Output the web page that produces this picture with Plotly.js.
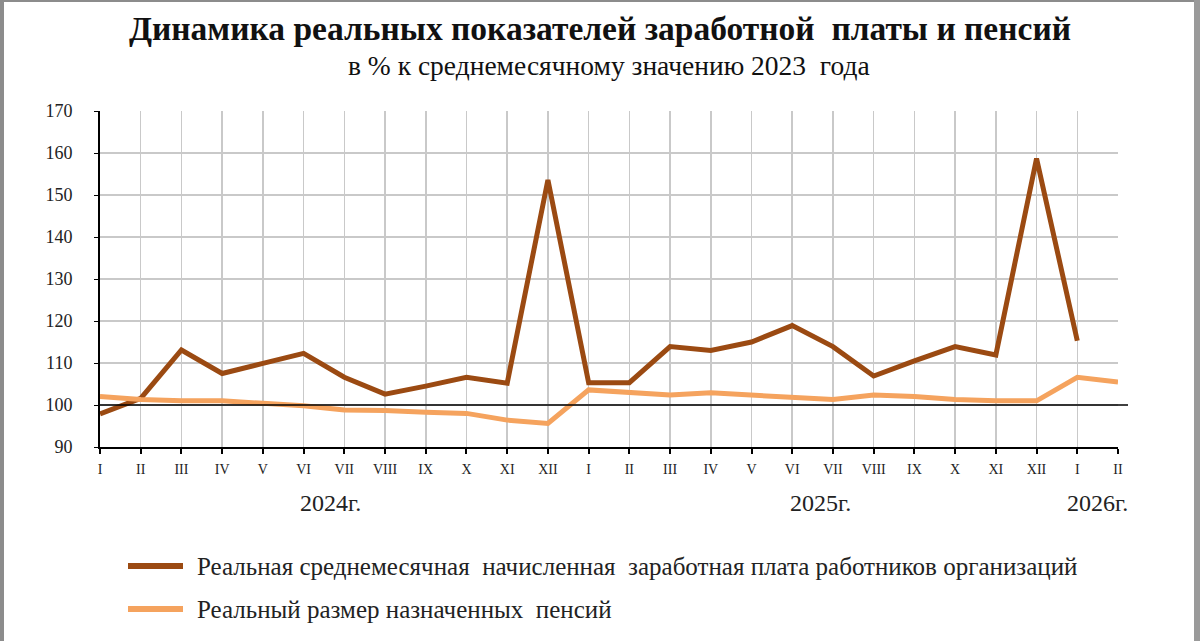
<!DOCTYPE html>
<html>
<head>
<meta charset="utf-8">
<script src="https://cdn.plot.ly/plotly-3.0.1.min.js"></script>
<style>
  body { margin: 0; background: #fff; }
  #wrap { position: relative; width: 1200px; height: 641px; overflow: hidden; }
  #chart { width: 1200px; height: 641px; }
  .edge { position: absolute; background: #8c8c8c; }
</style>
</head>
<body>
<div id="wrap">
  <div id="chart"></div>
  <div class="edge" style="left:0;top:0;width:4px;height:641px;"></div>
  <div class="edge" style="left:0;top:0;width:1200px;height:2px;"></div>
  <div class="edge" style="left:1194px;top:0;width:6px;height:641px;background:#9a9a9a;"></div>
</div>
<script>
  // months Jan 2024 .. Feb 2026
  var monthLabels = ["I", "II", "III", "IV", "V", "VI", "VII", "VIII", "IX", "X", "XI", "XII",
    "I", "II", "III", "IV", "V", "VI", "VII", "VIII", "IX", "X", "XI", "XII",
    "I", "II"];
  var wages = [97.9, 101.6, 113.1, 107.5, 109.9, 112.3, 106.6, 102.6, 104.5, 106.6, 105.2, 153.6,
    105.3, 105.3, 113.9, 113.0, 115.0, 118.9, 113.9, 106.9, 110.5, 113.9, 111.9, 158.7,
    115.3, null];
  var pensions = [102.0, 101.3, 101.0, 101.0, 100.4, 99.8, 98.8, 98.7, 98.3, 98.0, 96.4, 95.6,
    103.6, 102.9, 102.4, 102.9, 102.4, 102.0, 101.3, 102.4, 102.0, 101.3, 101.0, 101.0,
    106.6, 105.5];
  var seriesNames = [
    "Реальная среднемесячная  начисленная  заработная плата работников организаций",
    "Реальный размер назначенных  пенсий",
  ];
  var seriesColors = ["#9b4a12", "#f5a35e"];
  var yearLabels = ["2024г.", "2025г.", "2026г."];
  var yearPos = [5.65, 17.7, 24.5];

  var serif = "Liberation Serif";
  var idx = monthLabels.map(function (_, i) { return i; });

  // plot area in pixels: x 100..1118, y 111..447
  var plotH = 336, plotW = 1018, plotTop = 111, plotLeft = 100;
  function py(pix) { return 1 - (pix - plotTop) / plotH; }
  function px(pix) { return (pix - plotLeft) / plotW; }

  var traces = [wages, pensions].map(function (vals, i) {
    return {
      x: idx,
      y: vals,
      type: "scatter",
      mode: "lines",
      name: seriesNames[i],
      line: { color: seriesColors[i], width: 5 },
      hoverinfo: "y",
    };
  });

  var annotations = yearLabels.map(function (t, i) {
    return {
      x: yearPos[i],
      xref: "x",
      y: py(503),
      yref: "paper",
      yanchor: "middle",
      text: t,
      showarrow: false,
      font: { family: serif, size: 24, color: "#222" },
    };
  });
  annotations.push({
    x: 0.5, xref: "paper", xanchor: "center",
    y: py(65), yref: "paper", yanchor: "middle",
    text: "в % к среднемесячному значению 2023  года",
    showarrow: false,
    font: { family: serif, size: 27.5, color: "#111" },
  });

  // hand-built legend: sample lines + labels
  var legendY = [566, 609];
  var shapes = [
    {
      type: "line",
      xref: "paper",
      yref: "y",
      x0: 0,
      x1: px(1128),
      y0: 100,
      y1: 100,
      line: { color: "#000", width: 1.5 },
    },
  ];
  seriesNames.forEach(function (name, i) {
    shapes.push({
      type: "line",
      xref: "paper",
      yref: "paper",
      x0: px(128),
      x1: px(183),
      y0: py(legendY[i]),
      y1: py(legendY[i]),
      line: { color: seriesColors[i], width: 6 },
    });
    annotations.push({
      x: px(195), xref: "paper", xanchor: "left",
      y: py(legendY[i]), yref: "paper", yanchor: "middle",
      text: name,
      showarrow: false,
      font: { family: serif, size: 25, color: "#222" },
    });
  });

  var layout = {
    width: 1200,
    height: 641,
    margin: { l: 100, r: 82, t: 111, b: 194 },
    paper_bgcolor: "#ffffff",
    plot_bgcolor: "#ffffff",
    font: { family: serif, color: "#222" },
    title: {
      text: "<b>Динамика реальных показателей заработной  платы и пенсий</b>",
      x: 0.5,
      xref: "container",
      xanchor: "center",
      y: 1 - 28 / 641,
      yanchor: "middle",
      font: { family: serif, size: 33.5, color: "#111" },
    },
    xaxis: {
      range: [0, 25],
      tickvals: idx,
      ticktext: monthLabels,
      showgrid: true,
      gridcolor: "#c9c9c9",
      gridwidth: 1.5,
      showline: true,
      linecolor: "#000",
      linewidth: 2,
      ticks: "outside",
      ticklen: 5,
      tickcolor: "#000",
      tickwidth: 2,
      ticklabelstandoff: 3,
      tickfont: { family: serif, size: 14, color: "#222" },
      zeroline: false,
      fixedrange: true,
    },
    yaxis: {
      range: [90, 170],
      dtick: 10,
      showgrid: true,
      gridcolor: "#c9c9c9",
      gridwidth: 1.5,
      showline: true,
      linecolor: "#000",
      linewidth: 2,
      ticks: "outside",
      ticklen: 4,
      tickcolor: "#000",
      ticklabelstandoff: 18,
      tickfont: { family: serif, size: 18, color: "#222" },
      zeroline: false,
      fixedrange: true,
    },
    shapes: shapes,
    annotations: annotations,
    showlegend: false,
  };

  Plotly.newPlot("chart", traces, layout, { displayModeBar: false, staticPlot: true });
</script>
</body>
</html>
